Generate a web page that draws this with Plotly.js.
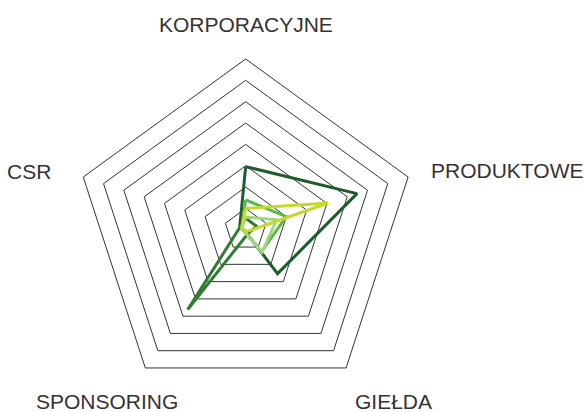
<!DOCTYPE html>
<html>
<head>
<meta charset="utf-8">
<script src="https://cdn.plot.ly/plotly-3.0.1.min.js"></script>
<style>html,body{margin:0;padding:0;background:#fff;}#chart{width:584px;height:412px;}</style>
</head>
<body>
<div id="chart"></div>
<script>
const categories = ["KORPORACYJNE", "PRODUKTOWE", "GIEŁDA", "SPONSORING", "CSR"];
const seriesDark   = [14.8, 27.4, 12.7, 0.3, 1.5];
const seriesForest = [2.7, 2.7, 1.0, 23.1, 1.5];
const seriesBright = [7.0, 10.0, 6.3, 0.5, 1.0];
const seriesPale   = [3.0, 7.6, 6.5, 0.5, 1.0];
const seriesYellow = [5.0, 20.3, 0.5, 0.5, 1.0];
const colors = ["#1d5c2c", "#2e7d32", "#5cb946", "#9fd67e", "#c3d92b"];
const allSeries = [seriesDark, seriesForest, seriesBright, seriesPale, seriesYellow];

const traces = allSeries.map((vals, i) => ({
  type: "scatterpolar",
  r: vals.concat([vals[0]]),
  theta: categories.concat([categories[0]]),
  mode: "lines",
  line: {color: colors[i], width: 3},
  hoverinfo: "skip",
  showlegend: false
}));

// label placement (pixel positions in the 584x412 figure)
const labelPos = [
  {x: 245.5, y: 25, xanchor: "center"},
  {x: 429, y: 170.5, xanchor: "left"},
  {x: 393, y: 401.5, xanchor: "center"},
  {x: 106.5, y: 401.5, xanchor: "center"},
  {x: 53, y: 171.5, xanchor: "right"}
];
const W = 584, H = 412;
const annotations = categories.map((c, i) => ({
  text: c, xref: "paper", yref: "paper",
  x: labelPos[i].x / W, y: 1 - labelPos[i].y / H,
  xanchor: labelPos[i].xanchor, yanchor: "middle",
  showarrow: false,
  font: {family: "Liberation Sans, Arial, sans-serif", size: 21, color: "#333333"}
}));

const layout = {
  width: W, height: H,
  margin: {l: 0, r: 0, t: 0, b: 0},
  paper_bgcolor: "#ffffff",
  showlegend: false,
  annotations: annotations,
  polar: {
    domain: {x: [0.1282, 0.7132], y: [0.0277, 0.8568]},
    bgcolor: "rgba(0,0,0,0)",
    gridshape: "linear",
    radialaxis: {
      range: [0, 40], dtick: 5, showticklabels: false, ticks: "",
      showline: false, gridcolor: "#333333", gridwidth: 1
    },
    angularaxis: {
      rotation: 90, direction: "clockwise",
      showgrid: false, showline: true, linecolor: "#333333", linewidth: 1,
      ticks: "", showticklabels: false
    }
  }
};
Plotly.newPlot("chart", traces, layout, {staticPlot: true, displayModeBar: false});
</script>
</body>
</html>
